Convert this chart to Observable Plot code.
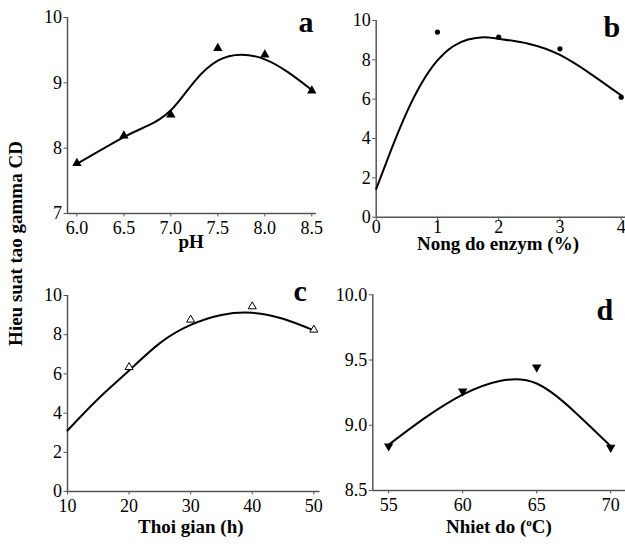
<!DOCTYPE html>
<html>
<head>
<meta charset="utf-8">
<script src="https://cdn.jsdelivr.net/npm/d3@7"></script>
<script src="https://cdn.jsdelivr.net/npm/@observablehq/plot@0.6"></script>
<style>
  html, body { margin: 0; padding: 0; background: #fff; }
  #root { position: relative; width: 625px; height: 546px; overflow: hidden; font-family: "Liberation Serif"; }
  .panel { position: absolute; }
  .lbl { position: absolute; font-weight: bold; font-size: 19px; white-space: nowrap; color: #000; }
  .letter { position: absolute; font-weight: bold; font-size: 30px; line-height: 1; color: #000; }
</style>
</head>
<body>
<div id="root"></div>
<script>
// ---- data ----
// a: pH
const aX = [6.0, 6.5, 7.0, 7.5, 8.0, 8.5];
const aY = [7.77, 8.19, 8.51, 9.53, 9.43, 8.88];
const aFitX = [6.0, 6.5, 6.75, 7.0, 7.25, 7.5, 7.75, 8.0, 8.25, 8.5];
const aFitY = [7.76, 8.17, 8.34, 8.58, 9.02, 9.34, 9.43, 9.36, 9.16, 8.89];
const aXTicks = [6.0, 6.5, 7.0, 7.5, 8.0, 8.5];
const aYTicks = [7, 8, 9, 10];
// b: enzyme concentration
const bX = [1, 2, 3, 4];
const bY = [9.41, 9.15, 8.56, 6.10];
const bFitX = [0, 0.25, 0.5, 0.75, 1.0, 1.25, 1.5, 1.75, 2.0, 2.5, 3.0, 3.5, 4.0];
const bFitY = [1.44, 3.47, 5.34, 6.86, 7.97, 8.68, 9.03, 9.15, 9.07, 8.81, 8.25, 7.29, 6.19];
const bXTicks = [0, 1, 2, 3, 4];
const bYTicks = [0, 2, 4, 6, 8, 10];
// c: time
const cX = [20, 30, 40, 50];
const cY = [6.34, 8.76, 9.44, 8.25];
const cFitX = [10, 15, 20, 25, 30, 35, 40, 45, 50];
const cFitY = [3.11, 4.73, 6.17, 7.57, 8.50, 9.01, 9.12, 8.81, 8.22];
const cXTicks = [10, 20, 30, 40, 50];
const cYTicks = [0, 2, 4, 6, 8, 10];
// d: temperature
const dX = [55, 60, 65, 70];
const dY = [8.84, 9.26, 9.445, 8.83];
const dFitX = [55, 57.5, 60, 62.5, 65, 67.5, 70];
const dFitY = [8.85, 9.06, 9.235, 9.34, 9.32, 9.11, 8.84];
const dXTicks = [55, 60, 65, 70];
const dYTicks = [8.5, 9.0, 9.5, 10.0];

const yLabel = "Hieu suat tao gamma CD";
const panelLetters = ["a", "b", "c", "d"];

// ---- helpers ----
const zip = (xs, ys) => xs.map((x, i) => ({x, y: ys[i]}));
const triDown = {
  draw(ctx, size) {
    const y = -Math.sqrt(size / (Math.sqrt(3) * 3));
    ctx.moveTo(0, -y * 2);
    ctx.lineTo(-Math.sqrt(3) * y, y);
    ctx.lineTo(Math.sqrt(3) * y, y);
    ctx.closePath();
  }
};
const FONT = "Liberation Serif";
const AXC = "#555";

function panel({left, top, width, height, mL, mR, mT, mB, xDom, yDom, xTicks, yTicks, xFmt, yFmt, xPad, pts, fit, dot}) {
  const chart = Plot.plot({
    width, height,
    marginLeft: mL, marginRight: mR, marginTop: mT, marginBottom: mB,
    x: {domain: xDom},
    y: {domain: yDom},
    style: {background: "transparent", overflow: "visible", color: "#000"},
    marks: [
      Plot.axisX({ticks: xTicks, tickFormat: xFmt, tickSize: 3.5, tickPadding: xPad, stroke: AXC, fill: "#000", label: null, fontSize: 18, fontFamily: FONT}),
      Plot.axisY({ticks: yTicks, tickFormat: yFmt, tickSize: 3.5, tickPadding: 2, stroke: AXC, fill: "#000", label: null, fontSize: 18, fontFamily: FONT}),
      Plot.ruleX([xDom[0]], {stroke: AXC, strokeWidth: 1.5}),
      Plot.ruleY([yDom[0]], {stroke: AXC, strokeWidth: 1.5}),
      Plot.line(fit, {x: "x", y: "y", curve: "natural", stroke: "#000", strokeWidth: 2}),
      Plot.dot(pts, {x: "x", y: "y", ...dot})
    ]
  });
  const div = document.createElement("div");
  div.className = "panel";
  div.style.left = left + "px";
  div.style.top = top + "px";
  div.appendChild(chart);
  document.getElementById("root").appendChild(div);
}

const f1 = d => d.toFixed(1);
const f0 = d => String(d);

panel({left: 0, top: 0, width: 320, height: 265, mL: 67, mR: 4, mT: 17, mB: 52,
  xDom: [5.9, 8.55], yDom: [7, 10], xTicks: aXTicks, yTicks: aYTicks, xFmt: f1, yFmt: f0, xPad: 4,
  pts: zip(aX, aY), fit: zip(aFitX, aFitY),
  dot: {symbol: "triangle", r: 3.5, fill: "#000", stroke: "none"}});

panel({left: 310, top: 0, width: 315, height: 265, mL: 65.7, mR: 0, mT: 20, mB: 48.3,
  xDom: [0, 4.07], yDom: [0, 10], xTicks: bXTicks, yTicks: bYTicks, xFmt: f0, yFmt: f0, xPad: 0,
  pts: zip(bX, bY), fit: zip(bFitX, bFitY),
  dot: {symbol: "circle", r: 2.6, fill: "#000", stroke: "none"}});

panel({left: 0, top: 270, width: 320, height: 276, mL: 67, mR: 0.5, mT: 25, mB: 55,
  xDom: [10, 51], yDom: [0, 10], xTicks: cXTicks, yTicks: cYTicks, xFmt: f0, yFmt: f0, xPad: 4,
  pts: zip(cX, cY), fit: zip(cFitX, cFitY),
  dot: {symbol: "triangle", r: 3.0, fill: "#fff", stroke: "#000", strokeWidth: 1}});

panel({left: 310, top: 270, width: 315, height: 276, mL: 62.3, mR: 0, mT: 24.3, mB: 56,
  xDom: [53.93, 71], yDom: [8.5, 10], xTicks: dXTicks, yTicks: dYTicks, xFmt: f0, yFmt: f1, xPad: 4,
  pts: zip(dX, dY), fit: zip(dFitX, dFitY),
  dot: {symbol: triDown, r: 3.5, fill: "#000", stroke: "none"}});

// ---- text labels ----
const root = document.getElementById("root");
function addLabel(html, cx, baseline, cls = "lbl") {
  const el = document.createElement("div");
  el.className = cls;
  el.innerHTML = html;
  el.style.lineHeight = "1";
  root.appendChild(el);
  const w = el.offsetWidth;
  el.style.left = (cx - w / 2) + "px";
  const fs = parseFloat(getComputedStyle(el).fontSize);
  el.style.top = (baseline - 0.89 * fs) + "px";
  return el;
}
addLabel("pH", 191, 249);
addLabel("Nong do enzym (%)", 498, 251);
addLabel("Thoi gian (h)", 191, 534);
addLabel('Nhiet do (<sup style="font-size:11px;vertical-align:7px">o</sup>C)', 499, 534);

addLabel(panelLetters[0], 306, 34, "letter");
addLabel(panelLetters[1], 612, 39, "letter");
addLabel(panelLetters[2], 300, 303, "letter");
addLabel(panelLetters[3], 605, 322, "letter");

// rotated y label
const yl = document.createElement("div");
yl.className = "lbl";
yl.textContent = yLabel;
yl.style.lineHeight = "1";
root.appendChild(yl);
const yw = yl.offsetWidth, yh = yl.offsetHeight;
yl.style.left = (15 - yw / 2) + "px";
yl.style.top = (243 - yh / 2) + "px";
yl.style.transform = "rotate(-90deg)";
</script>
</body>
</html>
